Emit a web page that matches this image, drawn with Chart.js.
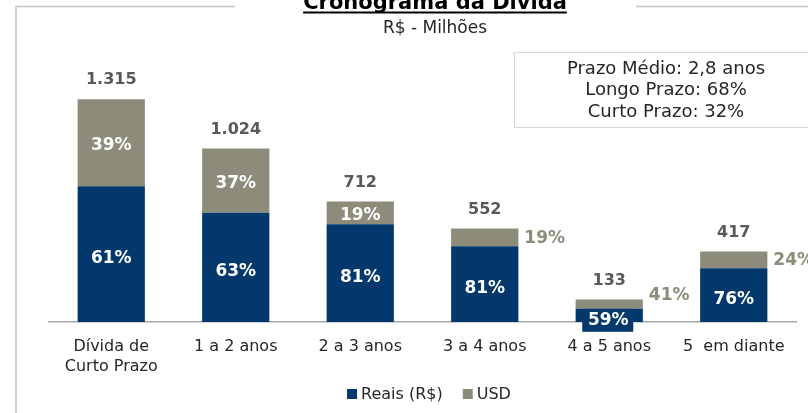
<!DOCTYPE html>
<html>
<head>
<meta charset="utf-8">
<script src="https://cdn.jsdelivr.net/npm/chart.js@4.4.1/dist/chart.umd.min.js"></script>
<style>
  html, body { margin: 0; padding: 0; background: #fff; }
  #wrap { position: relative; width: 808px; height: 413px; }
</style>
</head>
<body>
<div id="wrap"><canvas id="debtChart" width="808" height="413"></canvas></div>
<script>
// --- dados (R$ milhões) ---
const categories = [['Dívida de', 'Curto Prazo'], '1 a 2 anos', '2 a 3 anos', '3 a 4 anos', '4 a 5 anos', '5  em diante'];
const totals = [1315, 1024, 712, 552, 133, 417];
const reais = [802, 645, 577, 447, 78, 317];
const usd = [513, 379, 135, 105, 55, 100];
const reaisPct = [61, 63, 81, 81, 59, 76];
const usdPct = [39, 37, 19, 19, 41, 24];
const infoLines = ['Prazo Médio: 2,8 anos', 'Longo Prazo: 68%', 'Curto Prazo: 32%'];

const BLUE = '#02386b', GREY = '#8d8b7a', FONT = '"DejaVu Sans", sans-serif';

function fmt(n) { return String(n).replace(/\B(?=(\d{3})+(?!\d))/g, '.'); }

// frame, title and info box
const decor = {
    id: 'decor',
    beforeDraw(chart) {
        const c = chart.ctx;
        c.save();
        c.strokeStyle = '#c4c4c4'; c.lineWidth = 1.5;
        c.beginPath();
        c.moveTo(16, 413); c.lineTo(16, 6.5); c.lineTo(235, 6.5);
        c.moveTo(636, 6.5); c.lineTo(808, 6.5);
        c.stroke();
        // box
        c.strokeStyle = '#d6d6d6'; c.lineWidth = 1;
        c.strokeRect(514.5, 52.5, 305, 75);
        c.fillStyle = '#262626'; c.textAlign = 'center'; c.textBaseline = 'middle';
        c.font = '18px ' + FONT;
        infoLines.forEach((t, i) => c.fillText(t, 666, 69 + i * 21.5));
        // title (cut at top like the original)
        c.font = 'bold 21px ' + FONT;
        c.fillStyle = '#000';
        c.textBaseline = 'alphabetic';
        c.fillText('Cronograma da Dívida', 435, 9);
        const w = c.measureText('Cronograma da Dívida').width;
        c.fillRect(435 - w / 2, 11.5, w, 2);
        c.font = '17px ' + FONT;
        c.fillStyle = '#262626';
        c.textBaseline = 'middle';
        c.fillText('R$ - Milhões', 435, 29);
        c.restore();
    },
    // legend drawn by hand so spacing matches
    afterDraw(chart) {
        const c = chart.ctx;
        const ds = chart.data.datasets;
        c.save();
        c.font = '16px ' + FONT;
        c.textBaseline = 'middle';
        const widths = ds.map(d => 10 + 4 + c.measureText(d.label).width);
        const total = widths.reduce((a, b) => a + b, 0) + 20 * (ds.length - 1);
        let x = 429 - total / 2;
        ds.forEach((d, i) => {
            c.fillStyle = d.backgroundColor;
            c.fillRect(x, 389, 10, 10);
            c.fillStyle = '#262626';
            c.fillText(d.label, x + 14, 395);
            x += widths[i] + 20;
        });
        c.restore();
    }
};

// value / percent labels
const barLabels = {
    id: 'barLabels',
    afterDatasetsDraw(chart) {
        const c = chart.ctx;
        const mR = chart.getDatasetMeta(0), mU = chart.getDatasetMeta(1);
        c.save();
        c.textAlign = 'center'; c.textBaseline = 'middle';
        mR.data.forEach((b, i) => {
            const u = mU.data[i];
            c.font = 'bold 16px ' + FONT;
            c.fillStyle = '#595959';
            c.fillText(fmt(totals[i]), b.x, u.y - 19);

            c.font = 'bold 17px ' + FONT;
            const hR = b.base - b.y;
            if (hR < 20) {
                c.fillStyle = BLUE;
                c.fillRect(b.x - 27, b.y, 51, 23);
                c.fillStyle = '#fff';
                c.fillText(reaisPct[i] + '%', b.x - 1, b.y + 12);
            } else {
                c.fillStyle = '#fff';
                c.fillText(reaisPct[i] + '%', b.x, (b.y + b.base) / 2 + 4);
            }
            const hU = u.base - u.y;
            if (hU < 20) {
                c.fillStyle = GREY;
                c.textAlign = 'left';
                const ly = hU < 12 ? u.y - 4 : (u.y + u.base) / 2 + 1;
                c.fillText(usdPct[i] + '%', b.x + b.width / 2 + 6, ly);
                c.textAlign = 'center';
            } else {
                c.fillStyle = '#fff';
                c.fillText(usdPct[i] + '%', b.x, (u.y + u.base) / 2 + 3);
            }
        });
        c.restore();
    }
};

new Chart(document.getElementById('debtChart'), {
    type: 'bar',
    data: {
        labels: categories,
        datasets: [
            { label: 'Reais (R$)', data: reais, backgroundColor: BLUE, categoryPercentage: 0.54, barPercentage: 1 },
            { label: 'USD', data: usd, backgroundColor: GREY, categoryPercentage: 0.54, barPercentage: 1 }
        ]
    },
    options: {
        responsive: false, animation: false,
        layout: { padding: { left: 49, right: 12, top: 68, bottom: 36 } },
        plugins: {
            legend: { display: false },
            tooltip: { enabled: false }
        },
        scales: {
            x: {
                stacked: true,
                grid: { display: false, drawTicks: false },
                border: { display: true, color: '#a6a6a6', width: 1.5 },
                ticks: { color: '#262626', padding: 15, font: { family: FONT, size: 16, lineHeight: 1.25 } },
                afterFit: s => { s.height = 55; }
            },
            y: { stacked: true, display: false, min: 0, max: 1500 }
        }
    },
    plugins: [decor, barLabels]
});
</script>
</body>
</html>
